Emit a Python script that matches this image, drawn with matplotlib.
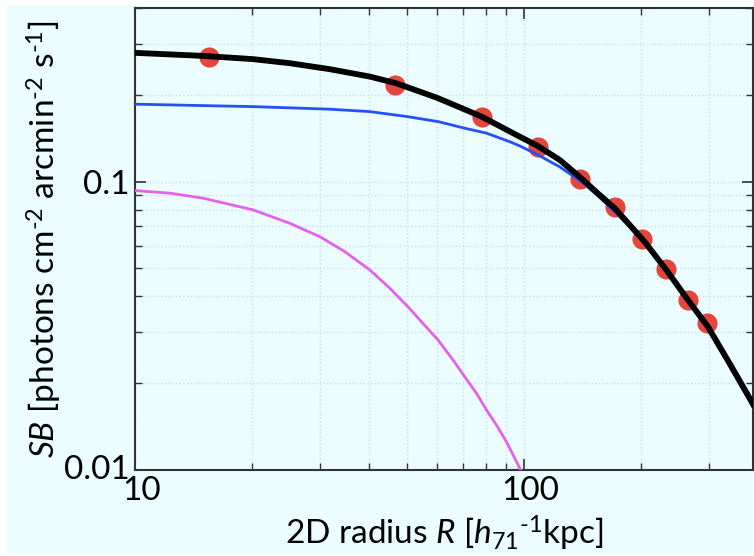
import matplotlib.pyplot as plt
from matplotlib.patches import Rectangle
from matplotlib.transforms import ScaledTranslation
from matplotlib.ticker import LogLocator, NullFormatter, FixedLocator, FixedFormatter

# --- values ---
r_data = [15.5, 46.6, 77.9, 108.8, 139.9, 171.4, 201.9, 232.8, 264.5, 296.0]
sb_data = [0.2715, 0.2165, 0.1673, 0.1323, 0.1022, 0.0815, 0.0634, 0.0497, 0.0389, 0.0323]

# total model (black)
r_total = [10, 14.98, 20.14, 25.03, 31.73, 40.2, 46.88, 54.03, 60.2, 77.98, 97.66, 108.6,
           123.8, 140.7, 154.9, 171.4, 187.3, 204.6, 232.8, 264.5, 297.8, 338.5, 390.2]
sb_total = [0.2796, 0.2729, 0.2659, 0.2574, 0.2454, 0.2313, 0.2195, 0.2052, 0.1947, 0.1680,
            0.1432, 0.1330, 0.1189, 0.1027, 0.0912, 0.0809, 0.0708, 0.0619, 0.0494, 0.0389,
            0.0314, 0.02344, 0.01681]

# ICM component (blue)
r_icm = [10, 20.14, 31.73, 40.2, 50.3, 60.2, 70.5, 80.3, 92.0, 97.66, 108.6, 123.8, 140.7,
         154.9, 171.4, 187.3, 204.6, 232.8, 264.5, 297.8, 338.5, 390.2]
sb_icm = [0.1856, 0.1820, 0.1783, 0.1749, 0.1680, 0.1615, 0.1532, 0.1472, 0.1376, 0.1330,
          0.1240, 0.1125, 0.1000, 0.0895, 0.0787, 0.0698, 0.0611, 0.0486, 0.0383, 0.0308,
          0.02294, 0.01641]

# core component (magenta)
r_core = [10, 12.30, 14.98, 20.14, 25.03, 29.9, 34.65, 40.2, 45.24, 50.4, 55.09, 60.2, 65.8,
          70.5, 75.6, 80.2, 85.1, 90.3, 97.7, 99.5]
sb_core = [0.0931, 0.0912, 0.0876, 0.0798, 0.0717, 0.0644, 0.0572, 0.0494, 0.0427, 0.0368,
           0.0322, 0.02825, 0.02407, 0.02107, 0.01845, 0.01615, 0.01432, 0.01253, 0.01014,
           0.00969]

x_ticks = [10, 100]
x_ticklabels = ['10', '100']
y_ticks = [0.01, 0.1]
y_ticklabels = ['0.01', '0.1']

# --- style ---
plt.rcParams['font.family'] = ['Lato', 'DejaVu Sans']
plt.rcParams['mathtext.fontset'] = 'custom'
plt.rcParams['mathtext.rm'] = 'Lato'
plt.rcParams['mathtext.it'] = 'Lato:italic'
plt.rcParams['mathtext.bf'] = 'Lato:bold'

bg = '#ebfdfe'
fig = plt.figure(figsize=(7.54, 5.56), dpi=100, facecolor='white')
fig.patches.append(Rectangle((7 / 754, 2 / 556), 1, 549 / 556, transform=fig.transFigure,
                             facecolor=bg, edgecolor='none', zorder=-10))
ax = fig.add_axes([0.179, 0.1547, 0.8197, 0.8309])
ax.set_facecolor(bg)

ax.plot(r_data, sb_data, 'o', color='#e5463b', markersize=14.5, markeredgewidth=0, zorder=3)
ax.plot(r_core, sb_core, color='#e461ef', linewidth=2, zorder=4)
ax.plot(r_icm, sb_icm, color='#2451f5', linewidth=2, zorder=4)
ax.plot(r_total, sb_total, color='black', linewidth=4.2, zorder=5, solid_joinstyle='round')

ax.set_xscale('log')
ax.set_yscale('log')
ax.set_xlim(10, 389)
ax.set_ylim(0.01, 0.40)

ax.xaxis.set_major_locator(FixedLocator(x_ticks))
ax.xaxis.set_major_formatter(FixedFormatter(x_ticklabels))
ax.yaxis.set_major_locator(FixedLocator(y_ticks))
ax.yaxis.set_major_formatter(FixedFormatter(y_ticklabels))
ax.xaxis.set_minor_locator(LogLocator(base=10, subs=range(2, 10)))
ax.yaxis.set_minor_locator(LogLocator(base=10, subs=range(2, 10)))
ax.xaxis.set_minor_formatter(NullFormatter())
ax.yaxis.set_minor_formatter(NullFormatter())

ax.tick_params(which='both', direction='in', top=True, right=True, colors='#333333',
               labelcolor='black', labelsize=24, pad=4)
ax.tick_params(which='major', length=8, width=1.2)
ax.tick_params(which='minor', length=5, width=1.0)

# x tick labels sit a little to the right of their ticks in the original
shift = ScaledTranslation(0.07, 0, fig.dpi_scale_trans)
for lab in ax.get_xticklabels():
    lab.set_transform(lab.get_transform() + shift)
lift = ScaledTranslation(0, 0.03, fig.dpi_scale_trans)
ylabs = ax.get_yticklabels()
ylabs[0].set_transform(ylabs[0].get_transform() + lift)

ax.grid(True, which='both', linestyle=':', color='#c9dcf7', linewidth=1.0, zorder=0)
ax.set_axisbelow(True)

for sp in ax.spines.values():
    sp.set_color('#333333')
    sp.set_linewidth(1.5)

ax.set_xlabel(r'2D radius $R$ [$h_{71}$${}^{\text{-}1}$kpc]', fontsize=24, labelpad=6)
ax.set_ylabel(r'$SB$ [photons cm${}^{\text{-}2}$ arcmin${}^{\text{-}2}$ s${}^{\text{-}1}$]',
              fontsize=24, labelpad=0)

plt.savefig('out.png', dpi=100)
